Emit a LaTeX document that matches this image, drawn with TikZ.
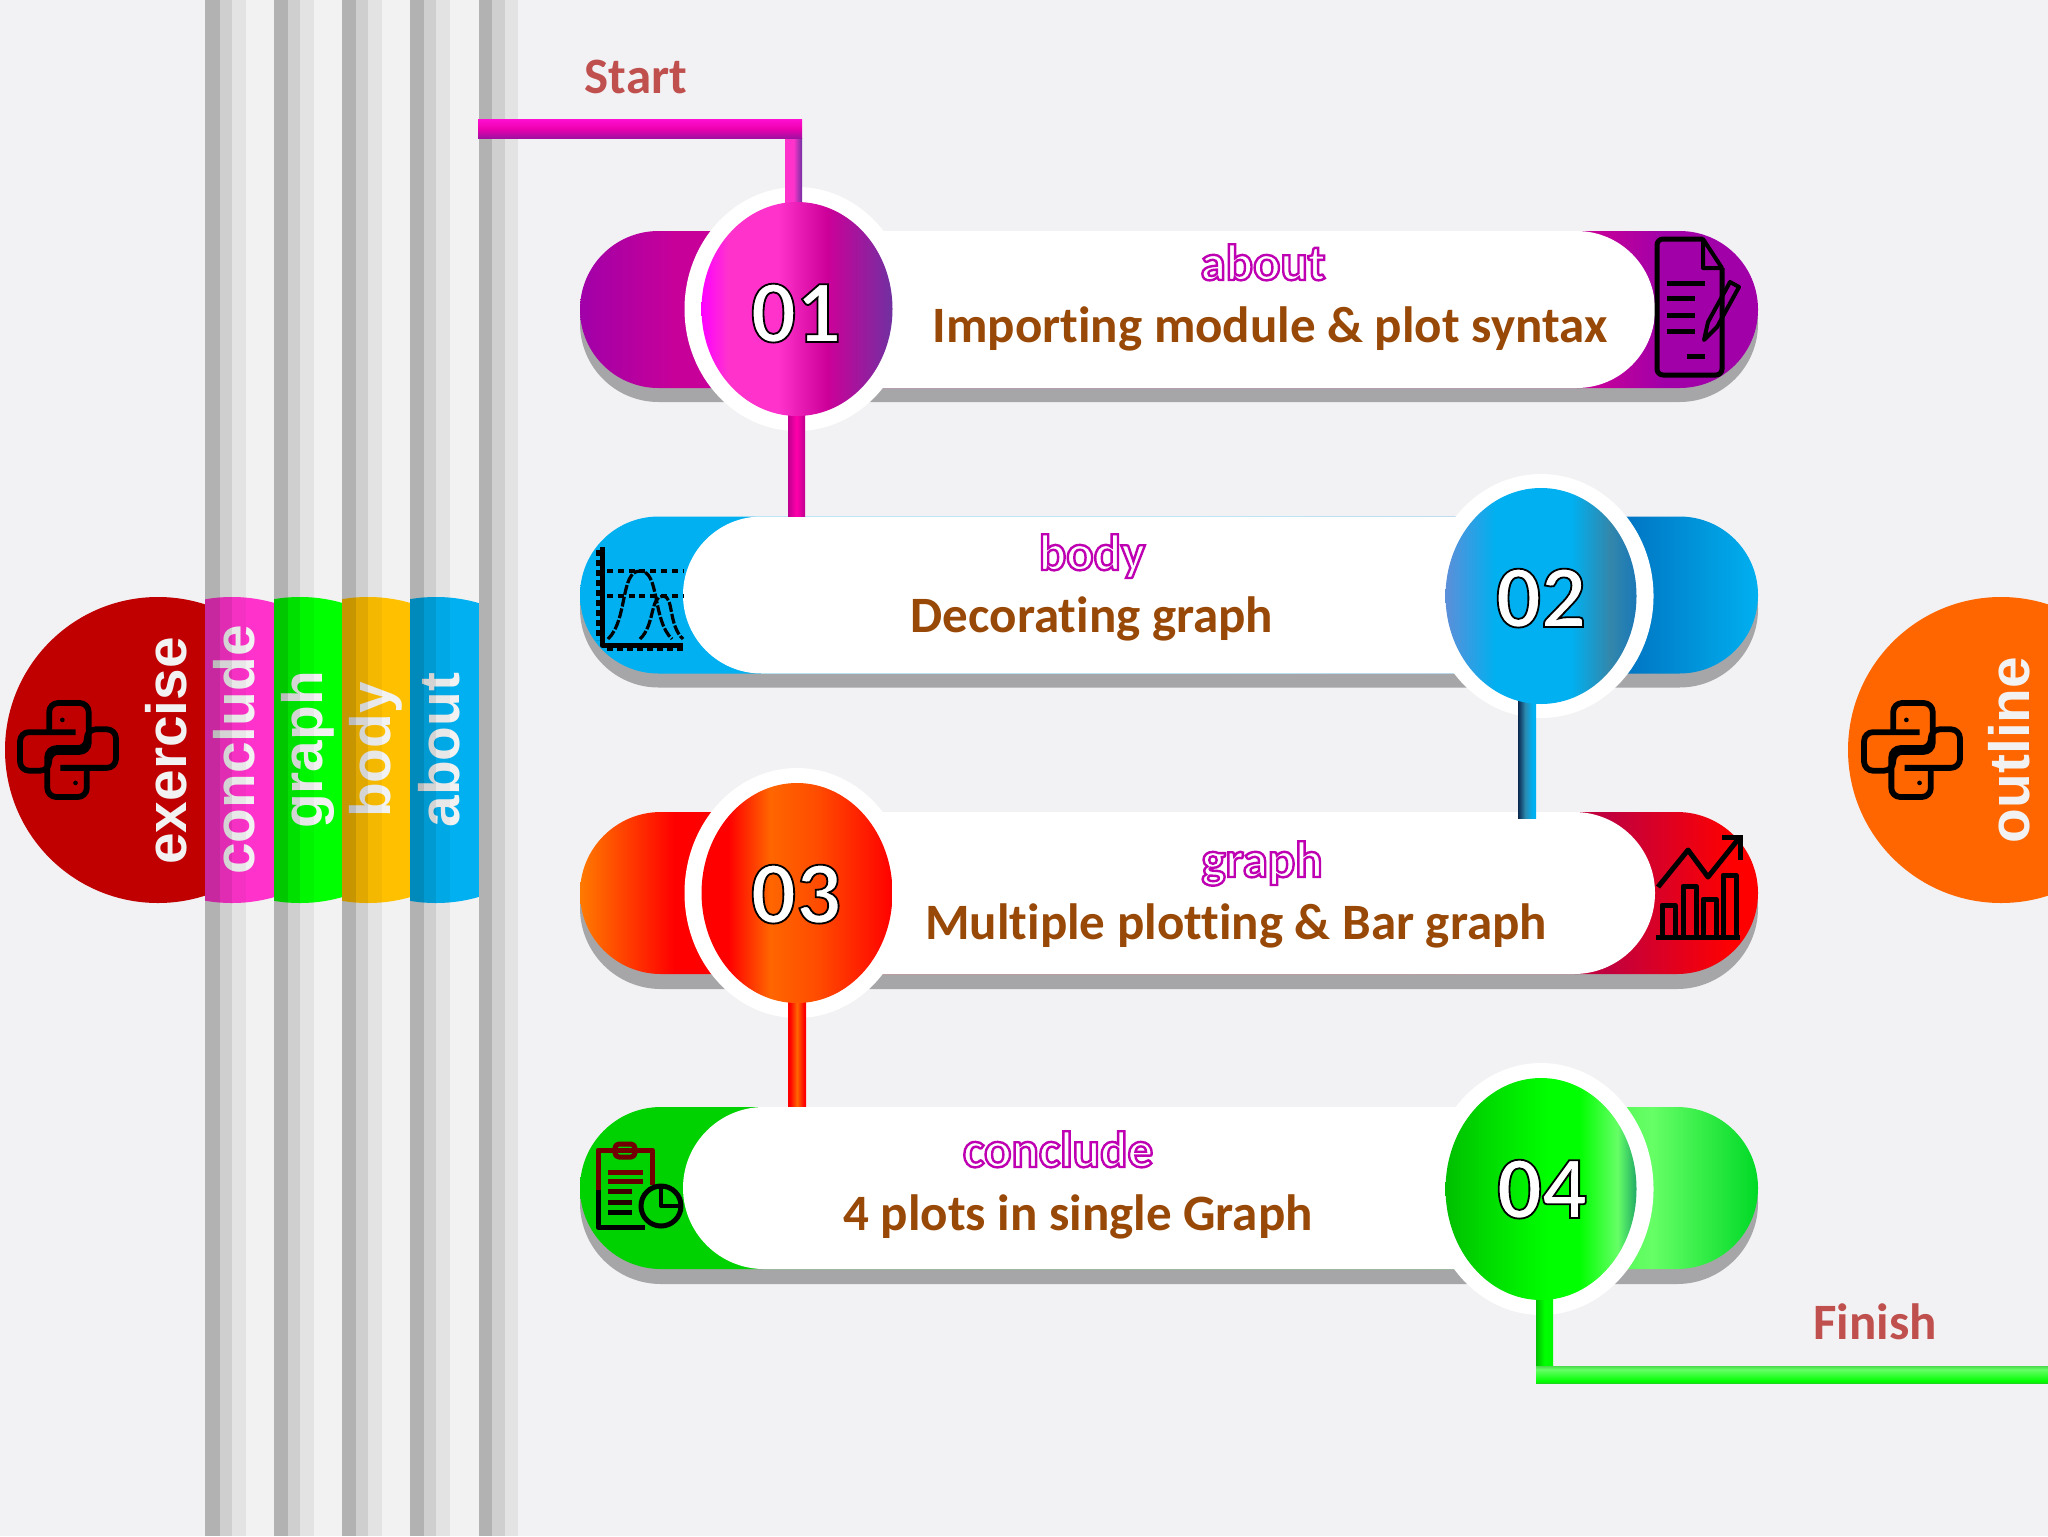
\documentclass[tikz,border=0pt]{standalone}
\usepackage{fontspec}
\setmainfont[Ligatures=NoCommon]{Carlito}
\newfontfamily\tabfont{Liberation Sans}
\usetikzlibrary{shapes.geometric,shapes.misc,calc}

\definecolor{bgcol}{HTML}{F2F2F4}
\definecolor{shadowgray}{HTML}{A6A6A8}
\definecolor{mainbrown}{HTML}{984807}
\definecolor{endred}{HTML}{C0504D}
\definecolor{tabexercisecol}{HTML}{C00000}
\definecolor{tabconcludecol}{HTML}{FF33CC}
\definecolor{tabgraphcol}{HTML}{00FF00}
\definecolor{tabbodycol}{HTML}{FFC000}
\definecolor{tababoutcol}{HTML}{00B0F0}
\definecolor{taboutlinecol}{HTML}{FF6600}

% pill fills
\pgfdeclarehorizontalshading{pilla}{100bp}{rgb(0bp)=(.63,0,.66);rgb(25bp)=(.63,0,.66);rgb(29bp)=(.78,0,.60);rgb(68bp)=(.78,0,.60);rgb(71bp)=(.63,0,.66);rgb(100bp)=(.63,0,.66)}
\pgfdeclarehorizontalshading{pillb}{100bp}{rgb(0bp)=(0,.69,.94);rgb(50bp)=(0,.69,.94);rgb(69bp)=(0,.44,.75);rgb(75bp)=(0,.69,.94);rgb(100bp)=(0,.69,.94)}
\pgfdeclarehorizontalshading{pillc}{100bp}{rgb(0bp)=(1,.48,0);rgb(25bp)=(1,.48,0);rgb(29bp)=(1,0,0);rgb(60bp)=(1,0,0);rgb(68.5bp)=(.75,0,.25);rgb(74bp)=(1,0,0);rgb(100bp)=(1,0,0)}
\pgfdeclarehorizontalshading{pilld}{100bp}{rgb(0bp)=(0,.82,0);rgb(60bp)=(0,.82,0);rgb(70.5bp)=(.40,1,.40);rgb(75bp)=(0,.85,.15);rgb(100bp)=(0,.85,.15)}
% circle fills
\pgfdeclarehorizontalshading{numa}{100bp}{rgb(0bp)=(1,0,1);rgb(25bp)=(1,0,1);rgb(32bp)=(1,.2,.8);rgb(45bp)=(1,.2,.8);rgb(58bp)=(.8,0,.6);rgb(75bp)=(.44,.19,.63);rgb(100bp)=(.44,.19,.63)}
\pgfdeclarehorizontalshading{numb}{100bp}{rgb(0bp)=(.36,.56,.85);rgb(25bp)=(.36,.56,.85);rgb(38bp)=(0,.69,.94);rgb(58bp)=(0,.69,.94);rgb(68bp)=(.20,.53,.67);rgb(75bp)=(.10,.47,.72);rgb(100bp)=(.10,.47,.72)}
\pgfdeclarehorizontalshading{numc}{100bp}{rgb(0bp)=(1,0,0);rgb(32bp)=(1,0,0);rgb(43bp)=(1,.40,0);rgb(55bp)=(1,.30,0);rgb(75bp)=(1,0,0);rgb(100bp)=(1,0,0)}
\pgfdeclarehorizontalshading{numd}{100bp}{rgb(0bp)=(0,.75,0);rgb(25bp)=(0,.75,0);rgb(35bp)=(0,.85,0);rgb(52bp)=(0,1,0);rgb(60bp)=(0,1,0);rgb(70bp)=(.40,1,.40);rgb(75bp)=(.13,.67,.40);rgb(100bp)=(.13,.67,.40)}
% tubes
\pgfdeclarehorizontalshading{tubea}{100bp}{rgb(0bp)=(1,.2,.8);rgb(50bp)=(1,.2,.8);rgb(75bp)=(.44,.19,.63);rgb(100bp)=(.44,.19,.63)}
\pgfdeclarehorizontalshading{tubeb}{100bp}{rgb(0bp)=(.75,0,.56);rgb(25bp)=(.75,0,.56);rgb(50bp)=(1,0,.67);rgb(75bp)=(.75,0,.56);rgb(100bp)=(.75,0,.56)}
\pgfdeclarehorizontalshading{tubec}{100bp}{rgb(0bp)=(.04,.16,.31);rgb(25bp)=(.04,.16,.31);rgb(45bp)=(.17,.54,.69);rgb(65bp)=(0,.69,.94);rgb(100bp)=(0,.69,.94)}
\pgfdeclarehorizontalshading{tubed}{100bp}{rgb(0bp)=(1,0,0);rgb(30bp)=(1,0,0);rgb(50bp)=(1,.40,0);rgb(70bp)=(1,0,0);rgb(100bp)=(1,0,0)}
\pgfdeclarehorizontalshading{tubee}{100bp}{rgb(0bp)=(0,.75,0);rgb(25bp)=(0,.75,0);rgb(50bp)=(0,1,0);rgb(100bp)=(0,.95,0)}
\pgfdeclareverticalshading{barstart}{100bp}{rgb(0bp)=(.63,.06,.63);rgb(25bp)=(.63,.06,.63);rgb(50bp)=(.93,0,.69);rgb(75bp)=(1,.06,.82);rgb(100bp)=(1,.06,.82)}
\pgfdeclareverticalshading{barfinish}{100bp}{rgb(0bp)=(.1,.85,.1);rgb(25bp)=(.1,.85,.1);rgb(30bp)=(0,1,0);rgb(65bp)=(.40,1,.40);rgb(75bp)=(.30,.85,.30);rgb(100bp)=(.30,.85,.30)}

% text drawn with a stroke round the glyphs
\newcommand{\strokedtext}[3]{\special{pdf:code 2 Tr #1 w #2 RG 1 1 1 rg}#3\special{pdf:code 0 Tr}}

\tikzset{
  pics/pylogo/.style={code={
    \draw[icon,line width=2.9pt,rounded corners=4.5pt] (-20,-19) -- (-20,-50) -- (22,-50) -- (22,2) -- (-20,2) -- (-20,22) -- (-51,22) -- (-51,-19) -- (8,-19);
    \draw[icon,line width=2.9pt,rounded corners=4.5pt] (20,19) -- (20,50) -- (-22,50) -- (-22,-2) -- (20,-2) -- (20,-22) -- (51,-22) -- (51,19) -- (-8,19);
    \fill (-6,-32) circle [radius=2.5];
    \fill (8,35) circle [radius=2.5];
  }}
}

\begin{document}
\begin{tikzpicture}[
  x=0.5pt, y=-0.5pt,
  icon/.style={draw=black, line width=2.5pt, line join=round},
  tabtext/.style={font=\tabfont\bfseries\fontsize{28.4}{28.4}\selectfont, text=white!95!black, rotate=90, anchor=base, inner sep=0pt},
  band1/.style={fill=black, fill opacity=.22},
  band2/.style={fill=black, fill opacity=.12},
  band3/.style={fill=black, fill opacity=.04},
  stripe1/.style={fill=black!30},
  stripe2/.style={fill=black!19},
  stripe3/.style={fill=black!11},
  stripe4/.style={fill=black!5},
  shadowpill/.style={rounded rectangle, fill=shadowgray, minimum width=589pt, inner sep=0pt},
  pill/.style={rounded rectangle, minimum width=589pt, inner sep=0pt},
  whitepill/.style={rounded rectangle, fill=white, inner sep=0pt},
  ring/.style={ellipse, fill=white, minimum width=112.5pt, inner sep=0pt},
  numcircle/.style={ellipse, minimum width=95.5pt, inner sep=0pt},
  numtext/.style={font=\bfseries\fontsize{44.5}{44.5}\selectfont, anchor=base, inner sep=0pt},
  headtext/.style={font=\bfseries\fontsize{25.5}{25.5}\selectfont, anchor=base, inner sep=0pt},
  maintext/.style={font=\bfseries\fontsize{25.5}{25.5}\selectfont, text=mainbrown, anchor=base, inner sep=0pt},
  endtext/.style={font=\bfseries\fontsize{25.5}{25.5}\selectfont, text=endred, anchor=base, inner sep=0pt}
]
\useasboundingbox (0,0) rectangle (2048,1536);
\fill[bgcol] (0,0) rectangle (2048,1536);

% grey stripes
\fill[stripe1] (205,0) rectangle (220,1536);
\fill[stripe2] (220,0) rectangle (232,1536);
\fill[stripe3] (232,0) rectangle (246,1536);
\fill[stripe4] (246,0) rectangle (274,1536);
\fill[stripe1] (274,0) rectangle (288,1536);
\fill[stripe2] (288,0) rectangle (300,1536);
\fill[stripe3] (300,0) rectangle (314,1536);
\fill[stripe4] (314,0) rectangle (342,1536);
\fill[stripe1] (342,0) rectangle (356,1536);
\fill[stripe2] (356,0) rectangle (368,1536);
\fill[stripe3] (368,0) rectangle (382,1536);
\fill[stripe4] (382,0) rectangle (410,1536);
\fill[stripe1] (410,0) rectangle (424,1536);
\fill[stripe2] (424,0) rectangle (436,1536);
\fill[stripe3] (436,0) rectangle (450,1536);
\fill[stripe4] (450,0) rectangle (479,1536);
\fill[stripe1] (479,0) rectangle (492,1536);
\fill[stripe2] (492,0) rectangle (505,1536);
\fill[stripe3] (505,0) rectangle (518,1536);

% side circles and tabs
\fill[tabexercisecol] (158,750) circle [radius=153];
\node[tabtext] (tabexercise) at (186,751) {exercise};
\pic[scale=.94] (logoleft) at (68,750) {pylogo};

\begin{scope}
  \clip (205,0) rectangle (274,1536);
  \clip (232,750) circle [radius=153];
  \fill[tabconcludecol] (205,590) rectangle (274,910);
  \node[tabtext] (tabconclude) at (254,750) {conclude};
  \fill[band1] (205,590) rectangle (220,910);
  \fill[band2] (220,590) rectangle (232,910);
  \fill[band3] (232,590) rectangle (246,910);
\end{scope}
\begin{scope}
  \clip (274,0) rectangle (342,1536);
  \clip (300,750) circle [radius=153];
  \fill[tabgraphcol] (274,590) rectangle (342,910);
  \node[tabtext] (tabgraph) at (322,750) {graph};
  \fill[band1] (274,590) rectangle (288,910);
  \fill[band2] (288,590) rectangle (300,910);
  \fill[band3] (300,590) rectangle (314,910);
\end{scope}
\begin{scope}
  \clip (342,0) rectangle (410,1536);
  \clip (368,750) circle [radius=153];
  \fill[tabbodycol] (342,590) rectangle (410,910);
  \node[tabtext] (tabbody) at (390,750) {body};
  \fill[band1] (342,590) rectangle (356,910);
  \fill[band2] (356,590) rectangle (368,910);
  \fill[band3] (368,590) rectangle (382,910);
\end{scope}
\begin{scope}
  \clip (410,0) rectangle (479,1536);
  \clip (436,750) circle [radius=153];
  \fill[tababoutcol] (410,590) rectangle (479,910);
  \node[tabtext] (tababout) at (459,750) {about};
  \fill[band1] (410,590) rectangle (424,910);
  \fill[band2] (424,590) rectangle (436,910);
  \fill[band3] (436,590) rectangle (450,910);
\end{scope}

\fill[taboutlinecol] (2001,750) circle [radius=153];
\node[tabtext] (taboutline) at (2029,750) {outline};
\pic[scale=.94] (logoright) at (1912,750) {pylogo};

% pills
\node[shadowpill, minimum height=78.5pt] (shadow1) at (1169,323.5) {};
\node[pill, shading=pilla, minimum height=78.5pt] (pill1) at (1169,309.5) {};
\node[shadowpill, minimum height=78.5pt] (shadow2) at (1169,609) {};
\node[pill, shading=pillb, minimum height=78.5pt] (pill2) at (1169,595) {};
\node[shadowpill, minimum height=81pt] (shadow3) at (1169,908) {};
\node[pill, shading=pillc, minimum height=81pt] (pill3) at (1169,893) {};
\node[shadowpill, minimum height=81pt] (shadow4) at (1169,1203) {};
\node[pill, shading=pilld, minimum height=81pt] (pill4) at (1169,1188) {};

\node[whitepill, rounded rectangle left arc=none, minimum width=429pt, minimum height=78.5pt] (white1) at (1226,309.5) {};
\node[whitepill, rounded rectangle right arc=none, minimum width=429pt, minimum height=78.5pt] (white2) at (1112,595) {};
\node[whitepill, rounded rectangle left arc=none, minimum width=429pt, minimum height=81pt] (white3) at (1226,893) {};
\node[whitepill, rounded rectangle right arc=none, minimum width=429pt, minimum height=81pt] (white4) at (1112,1188) {};

% rings
\node[ring, minimum height=122pt] (ring1) at (797,309) {};
\node[ring, minimum height=122pt] (ring2) at (1541,596) {};
\node[ring, minimum height=125pt] (ring3) at (797,893) {};
\node[ring, minimum height=126pt] (ring4) at (1541,1189) {};

% connectors
\coordinate (startend) at (478,119);
\coordinate (startcorner) at (802,138);
\coordinate (finishend) at (2048,1366);
\coordinate (finishcorner) at (1536,1383);
\path[shading=tubea] ($(startcorner)+(-17,0)$) rectangle ($(ring1.north)+(5,30)$);
\path[shading=barstart] (startend) rectangle (startcorner);
\path[shading=tubeb] ($(ring1.south)+(-9,-30)$) rectangle ($(pill2.north -| ring1)+(8,0)$);
\path[shading=tubec] ($(ring2.south)+(-23,-30)$) rectangle ($(pill3.north -| ring2)+(-5,7)$);
\path[shading=tubed] ($(ring3.south)+(-9,-30)$) rectangle ($(pill4.north -| ring3)+(9,0)$);
\path[shading=tubee] ($(ring4.south)+(-5,-30)$) rectangle ($(finishcorner)+(17,0)$);
\path[shading=barfinish] (finishcorner) rectangle (finishend);

% number circles
\node[numcircle, shading=numa, minimum height=107pt] (num1) at (797,309) {};
\node[numcircle, shading=numb, minimum height=108pt] (num2) at (1541,596) {};
\node[numcircle, shading=numc, minimum height=110pt] (num3) at (797,893) {};
\node[numcircle, shading=numd, minimum height=111pt] (num4) at (1541,1189) {};
\node[numtext] (numtext1) at (796,342) {\strokedtext{.9}{0 0 0}{01}};
\node[numtext] (numtext2) at (1541,627) {\strokedtext{.9}{0 0 0}{02}};
\node[numtext] (numtext3) at (796,923) {\strokedtext{.9}{0 0 0}{03}};
\node[numtext] (numtext4) at (1542,1218) {\strokedtext{.9}{0 0 0}{04}};

% texts
\node[headtext] (head1) at (1263,280) {\strokedtext{1.2}{.75 0 .7}{about}};
\node[maintext] (main1) at (1270,342) {Importing module \& plot syntax};
\node[headtext] (head2) at (1092,570) {\strokedtext{1.2}{.75 0 .7}{body}};
\node[maintext] (main2) at (1092,632) {Decorating graph};
\node[headtext] (head3) at (1262,877) {\strokedtext{1.2}{.75 0 .7}{graph}};
\node[maintext] (main3) at (1236,939) {Multiple plotting \& Bar graph};
\node[headtext] (head4) at (1058,1167) {\strokedtext{1.2}{.75 0 .7}{conclude}};
\node[maintext] (main4) at (1078,1230) {4 plots in single Graph};
\node[endtext] (starttext) at (636,94) {Start};
\node[endtext] (finishtext) at (1875,1339) {Finish};

% icon: document and pen
\draw[icon, rounded corners=3pt] (1703,239) -- (1657,239) -- (1657,375) -- (1722,375) -- (1722,268);
\draw[icon, line width=2pt] (1703,239) -- (1722,268) -- (1703,268) -- cycle;
\draw[icon] (1667,283) -- (1705,283);
\draw[icon] (1667,298) -- (1695,298);
\draw[icon] (1667,315) -- (1695,315);
\draw[icon] (1667,331) -- (1695,331);
\draw[icon] (1687,356) -- (1705,356);
\draw[icon, line width=2pt] (1704,340) -- (1708,322) -- (1730,282) -- (1739,287) -- (1717,327) -- cycle;

% icon: bell curves
\draw[icon] (602,547) -- (602,645) -- (683,645);
\draw[icon, line width=1.6pt, dashed, dash pattern=on 3pt off 2pt] (598,550) -- (598,640);
\draw[icon, line width=1.6pt, dashed, dash pattern=on 3pt off 2pt] (607,649) -- (683,649);
\draw[icon, line width=1.8pt, dash pattern=on 3pt off 2.4pt] (607,571) -- (683,571);
\draw[icon, line width=1.8pt, dash pattern=on 3pt off 2.4pt] (607,596) -- (683,596);
\draw[icon, line width=1.6pt, dash pattern=on 5pt off 1pt] (608,639) .. controls (628,620) and (620,571) .. (640,571) .. controls (660,571) and (652,620) .. (672,639);
\draw[icon, line width=1.6pt, dash pattern=on 5pt off 1pt] (640,639) .. controls (655,625) and (650,596) .. (663,596) .. controls (674,596) and (668,625) .. (683,639);

% icon: bars and rising line
\draw[icon] (1656,937) -- (1740,937);
\draw[icon] (1662,937) -- (1662,905) -- (1675,905) -- (1675,937);
\draw[icon] (1683,937) -- (1683,886) -- (1696,886) -- (1696,937);
\draw[icon] (1703,937) -- (1703,899) -- (1716,899) -- (1716,937);
\draw[icon] (1723,937) -- (1723,875) -- (1736,875) -- (1736,937);
\draw[icon] (1658,887) -- (1688,850) -- (1708,877) -- (1740,837);
\draw[icon, line join=miter] (1722,837) -- (1740,837) -- (1740,860);

% icon: clipboard and pie
\draw[icon, draw=red!45!black] (652,1185) -- (652,1150) -- (598,1150) -- (598,1190);
\draw[icon] (598,1190) -- (598,1227) -- (645,1227);
\draw[icon, draw=red!45!black, rounded corners=2pt] (615,1144) rectangle (635,1157);
\draw[icon, draw=red!45!black] (608,1172) -- (643,1172);
\draw[icon, draw=red!40!black] (608,1181) -- (643,1181);
\draw[icon, draw=red!25!black] (608,1191) -- (632,1191);
\draw[icon, draw=red!15!black] (608,1202) -- (632,1202);
\draw[icon] (608,1212) -- (632,1212);
\draw[icon] (661,1206) circle [radius=20];
\draw[icon, line width=2pt] (661,1188) -- (661,1206) -- (680,1206);
\end{tikzpicture}
\end{document}
